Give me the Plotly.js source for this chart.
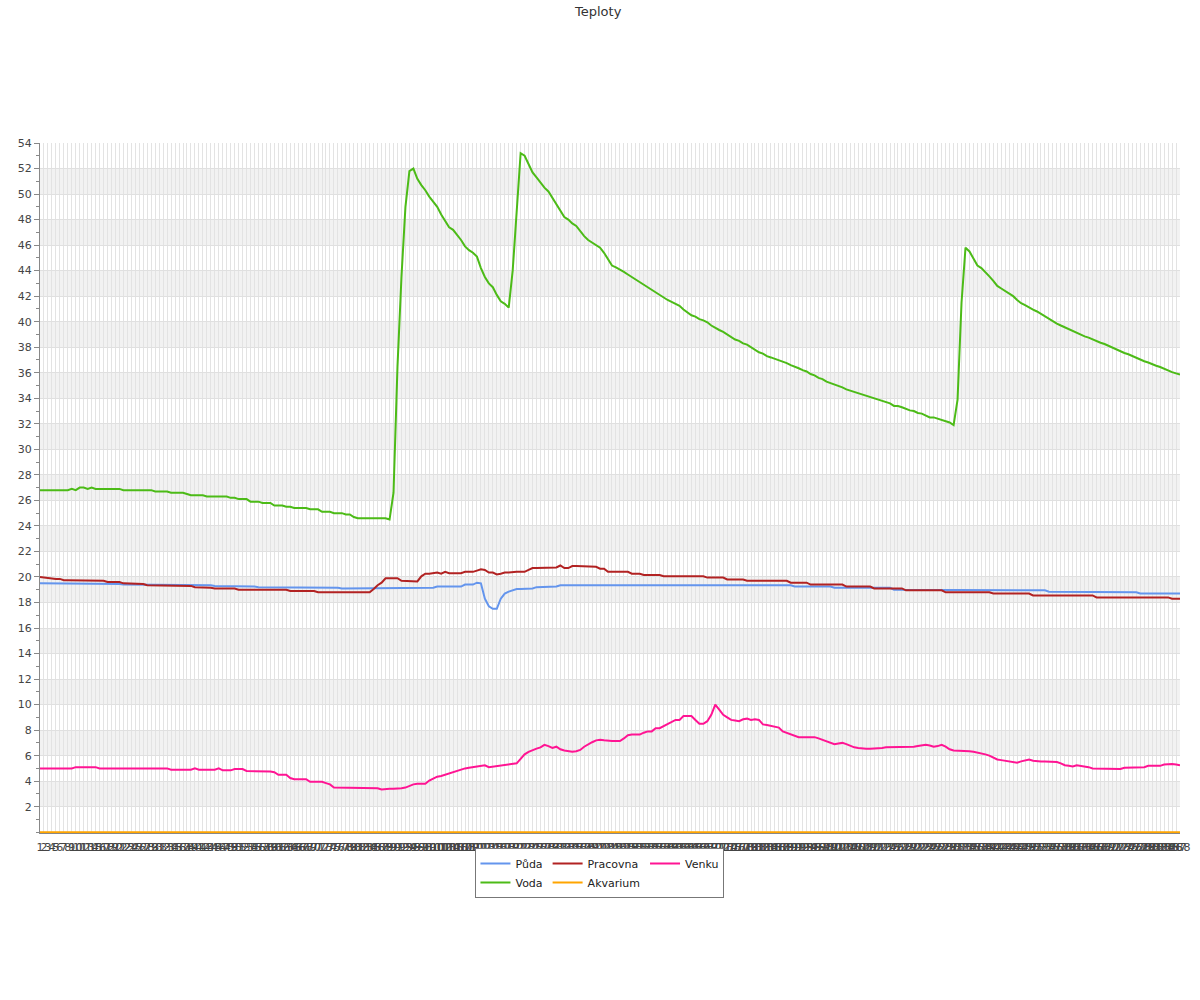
<!DOCTYPE html>
<html>
<head>
<meta charset="utf-8">
<script src="https://cdn.plot.ly/plotly-3.0.1.min.js"></script>
<style>html,body{margin:0;padding:0;background:#fff;}#chart{width:1200px;height:1000px;}</style>
</head>
<body>
<div id="chart"></div>
<script>
// category labels 1..288 (five-minute samples)
const categories = Array.from({length: 288}, (_, k) => String(k + 1));

const seriesNames = ['Půda', 'Pracovna', 'Venku', 'Voda', 'Akvarium'];

const puda = [
19.5,19.5,19.5,19.5,19.5,19.5,19.45,19.5,19.45,19.45,
19.45,19.45,19.45,19.45,19.45,19.45,19.45,19.45,19.45,19.45,
19.45,19.4,19.4,19.4,19.4,19.4,19.4,19.4,19.4,19.4,
19.4,19.4,19.4,19.4,19.4,19.4,19.4,19.4,19.4,19.4,
19.35,19.35,19.35,19.35,19.3,19.3,19.3,19.3,19.3,19.3,
19.3,19.25,19.25,19.25,19.25,19.2,19.2,19.2,19.2,19.2,
19.2,19.2,19.2,19.2,19.2,19.2,19.15,19.15,19.15,19.15,
19.15,19.15,19.15,19.15,19.15,19.15,19.1,19.1,19.1,19.1,
19.1,19.1,19.1,19.1,19.1,19.1,19.1,19.1,19.15,19.15,
19.15,19.15,19.15,19.15,19.15,19.15,19.15,19.15,19.15,19.15,
19.25,19.25,19.25,19.25,19.25,19.25,19.25,19.4,19.4,19.4,
19.55,19.5,18.3,17.7,17.5,17.5,18.3,18.7,18.85,18.95,
19.05,19.05,19.05,19.05,19.1,19.2,19.2,19.2,19.2,19.2,
19.25,19.35,19.35,19.35,19.35,19.4,19.4,19.4,19.4,19.4,
19.4,19.4,19.4,19.4,19.4,19.4,19.4,19.4,19.4,19.4,
19.4,19.4,19.4,19.4,19.4,19.4,19.4,19.4,19.4,19.4,
19.4,19.4,19.4,19.4,19.4,19.4,19.4,19.4,19.4,19.4,
19.4,19.4,19.4,19.4,19.4,19.4,19.4,19.4,19.4,19.4,
19.4,19.4,19.4,19.35,19.35,19.35,19.35,19.35,19.35,19.35,
19.25,19.25,19.25,19.25,19.25,19.25,19.25,19.25,19.25,19.25,
19.15,19.15,19.15,19.15,19.15,19.15,19.15,19.15,19.15,19.15,
19.15,19.15,19.15,19.15,19.15,19.0,19.0,19.0,19.0,19.0,
19.0,19.0,19.0,19.0,19.0,19.0,19.0,19.0,19.0,19.0,
19.0,19.0,19.0,19.0,19.0,19.0,19.0,19.0,19.0,19.0,
19.0,19.0,18.95,18.95,18.95,18.95,18.95,18.95,18.95,18.95,
18.95,18.95,18.95,18.95,18.85,18.85,18.85,18.85,18.85,18.85,
18.85,18.85,18.85,18.85,18.8,18.8,18.8,18.8,18.8,18.8,
18.8,18.8,18.8,18.8,18.8,18.8,18.8,18.7,18.7,18.75,
18.7,18.7,18.7,18.7,18.7,18.7,18.7,18.7
];

const voda = [
26.8,26.8,26.8,26.8,26.8,26.8,26.8,26.8,26.9,26.8,
27.0,27.0,26.9,27.0,26.9,26.9,26.9,26.9,26.9,26.9,
26.9,26.8,26.8,26.8,26.8,26.8,26.8,26.8,26.8,26.7,
26.7,26.7,26.7,26.6,26.6,26.6,26.6,26.5,26.4,26.4,
26.4,26.4,26.3,26.3,26.3,26.3,26.3,26.3,26.2,26.2,
26.1,26.1,26.1,25.9,25.9,25.9,25.8,25.8,25.8,25.6,
25.6,25.6,25.5,25.5,25.4,25.4,25.4,25.4,25.3,25.3,
25.3,25.1,25.1,25.1,25.0,25.0,25.0,24.9,24.9,24.7,
24.6,24.6,24.6,24.6,24.6,24.6,24.6,24.6,24.5,26.6,
36.5,43.5,49.0,51.8,52.0,51.2,50.7,50.3,49.8,49.4,
49.0,48.4,47.9,47.4,47.2,46.8,46.4,45.9,45.6,45.4,
45.1,44.2,43.5,43.0,42.7,42.1,41.6,41.4,41.1,44.0,
49.0,53.2,53.0,52.4,51.7,51.3,50.9,50.5,50.2,49.7,
49.1,48.6,48.2,48.0,47.7,47.5,47.1,46.7,46.4,46.2,
46.0,45.8,45.4,44.9,44.4,44.25,44.1,43.9,43.7,43.5,
43.3,43.1,42.9,42.7,42.5,42.3,42.1,41.85,41.7,41.55,
41.4,41.25,40.95,40.7,40.5,40.4,40.2,40.1,39.95,39.7,
39.5,39.35,39.2,39.0,38.8,38.6,38.5,38.3,38.2,38.0,
37.8,37.6,37.5,37.3,37.2,37.1,37.0,36.9,36.75,36.6,
36.5,36.35,36.2,36.1,35.9,35.8,35.6,35.5,35.3,35.2,
35.05,34.95,34.85,34.7,34.6,34.45,34.4,34.3,34.2,34.1,
34.0,33.9,33.8,33.7,33.6,33.4,33.4,33.3,33.15,33.05,
33.0,32.85,32.8,32.65,32.5,32.5,32.4,32.25,32.15,32.1,
31.9,33.9,41.5,45.8,45.5,44.9,44.4,44.2,43.9,43.55,
43.2,42.8,42.6,42.4,42.15,42.0,41.7,41.45,41.3,41.1,
40.95,40.8,40.6,40.45,40.25,40.0,39.85,39.7,39.55,39.4,
39.3,39.15,39.0,38.85,38.75,38.6,38.5,38.35,38.25,38.1,
38.0,37.85,37.7,37.55,37.45,37.3,37.15,37.05,36.9,36.8,
36.65,36.55,36.45,36.3,36.2,36.05,35.95,35.85
];

const pracovna = [
20.0,19.95,19.95,19.85,19.85,19.85,19.75,19.75,19.75,19.75,
19.7,19.7,19.7,19.7,19.7,19.7,19.7,19.6,19.6,19.6,
19.6,19.5,19.5,19.5,19.5,19.45,19.45,19.35,19.35,19.35,
19.35,19.35,19.35,19.35,19.35,19.35,19.35,19.3,19.3,19.2,
19.2,19.15,19.15,19.15,19.1,19.1,19.1,19.1,19.1,19.1,
19.0,19.0,19.0,19.0,19.0,19.0,19.0,19.0,19.0,19.0,
19.0,19.0,19.0,18.9,18.9,18.9,18.9,18.9,18.9,18.9,
18.8,18.8,18.8,18.8,18.8,18.8,18.8,18.8,18.8,18.8,
18.8,18.8,18.8,18.8,19.05,19.35,19.55,19.9,19.9,19.9,
19.9,19.7,19.7,19.7,19.7,19.65,20.05,20.25,20.25,20.3,
20.35,20.25,20.4,20.3,20.3,20.3,20.3,20.4,20.4,20.4,
20.5,20.6,20.55,20.35,20.35,20.2,20.25,20.35,20.35,20.4,
20.4,20.4,20.4,20.55,20.7,20.7,20.7,20.7,20.7,20.7,
20.75,20.9,20.7,20.7,20.85,20.85,20.85,20.85,20.85,20.85,
20.8,20.65,20.65,20.4,20.4,20.4,20.4,20.4,20.4,20.25,
20.25,20.25,20.15,20.15,20.15,20.15,20.15,20.05,20.05,20.05,
20.05,20.05,20.05,20.05,20.05,20.05,20.05,20.05,19.95,19.95,
19.95,19.95,19.95,19.8,19.8,19.8,19.8,19.8,19.7,19.7,
19.7,19.7,19.7,19.7,19.7,19.7,19.7,19.7,19.7,19.55,
19.55,19.55,19.55,19.55,19.4,19.4,19.4,19.4,19.4,19.4,
19.4,19.4,19.4,19.25,19.25,19.25,19.25,19.25,19.25,19.25,
19.1,19.1,19.1,19.1,19.1,19.1,19.1,19.1,18.95,18.95,
18.95,18.95,18.95,18.95,18.95,18.95,18.95,18.95,18.8,18.8,
18.8,18.8,18.8,18.8,18.8,18.8,18.8,18.8,18.8,18.8,
18.7,18.7,18.7,18.7,18.7,18.7,18.7,18.7,18.7,18.7,
18.55,18.55,18.55,18.55,18.55,18.55,18.55,18.55,18.55,18.55,
18.55,18.55,18.55,18.55,18.55,18.55,18.4,18.4,18.4,18.4,
18.4,18.4,18.4,18.4,18.4,18.4,18.4,18.4,18.4,18.4,
18.4,18.4,18.4,18.4,18.4,18.3,18.3,18.3
];

const akvarium = [
0,0,0,0,0,0,0,0,0,0,0,0,0,0,0,0,0,0,0,0,0,0,0,0,0,0,0,0,0,0,0,0,0,0,0,0,
0,0,0,0,0,0,0,0,0,0,0,0,0,0,0,0,0,0,0,0,0,0,0,0,0,0,0,0,0,0,0,0,0,0,0,0,
0,0,0,0,0,0,0,0,0,0,0,0,0,0,0,0,0,0,0,0,0,0,0,0,0,0,0,0,0,0,0,0,0,0,0,0,
0,0,0,0,0,0,0,0,0,0,0,0,0,0,0,0,0,0,0,0,0,0,0,0,0,0,0,0,0,0,0,0,0,0,0,0,
0,0,0,0,0,0,0,0,0,0,0,0,0,0,0,0,0,0,0,0,0,0,0,0,0,0,0,0,0,0,0,0,0,0,0,0,
0,0,0,0,0,0,0,0,0,0,0,0,0,0,0,0,0,0,0,0,0,0,0,0,0,0,0,0,0,0,0,0,0,0,0,0,
0,0,0,0,0,0,0,0,0,0,0,0,0,0,0,0,0,0,0,0,0,0,0,0,0,0,0,0,0,0,0,0,0,0,0,0,
0,0,0,0,0,0,0,0,0,0,0,0,0,0,0,0,0,0,0,0,0,0,0,0,0,0,0,0,0,0,0,0,0,0,0,0
];

const venku = [
5.0,5.0,5.0,5.0,5.0,5.0,5.0,5.0,5.0,5.1,
5.1,5.1,5.1,5.1,5.1,5.0,5.0,5.0,5.0,5.0,
5.0,5.0,5.0,5.0,5.0,5.0,5.0,5.0,5.0,5.0,
5.0,5.0,5.0,4.9,4.9,4.9,4.9,4.9,4.9,5.0,
4.9,4.9,4.9,4.9,4.9,5.0,4.85,4.85,4.85,4.95,
4.95,4.95,4.8,4.8,4.8,4.8,4.8,4.8,4.75,4.7,
4.5,4.5,4.5,4.25,4.15,4.15,4.15,4.15,3.95,3.95,
3.95,3.95,3.85,3.75,3.5,3.5,3.5,3.5,3.5,3.5,
3.5,3.5,3.5,3.5,3.5,3.45,3.35,3.4,3.4,3.4,
3.4,3.45,3.5,3.65,3.75,3.8,3.8,3.8,4.05,4.2,
4.35,4.4,4.5,4.6,4.75,4.8,4.9,5.0,5.05,5.1,
5.15,5.2,5.25,5.1,5.15,5.2,5.25,5.3,5.3,5.35,
5.4,5.75,6.1,6.3,6.45,6.55,6.65,6.85,6.75,6.6,
6.7,6.5,6.4,6.35,6.3,6.35,6.45,6.7,6.9,7.05,
7.2,7.25,7.2,7.15,7.15,7.15,7.15,7.35,7.6,7.65,
7.65,7.65,7.8,7.9,7.9,8.15,8.15,8.3,8.5,8.65,
8.8,8.8,9.1,9.1,9.1,8.8,8.5,8.5,8.7,9.2,
10.0,9.6,9.2,9.0,8.8,8.75,8.7,8.85,8.9,8.8,
8.85,8.8,8.45,8.4,8.35,8.3,8.2,7.9,7.8,7.65,
7.55,7.45,7.45,7.45,7.45,7.45,7.35,7.25,7.1,7.05,
6.9,6.95,7.0,6.9,6.75,6.65,6.6,6.55,6.55,6.55,
6.55,6.55,6.6,6.65,6.65,6.65,6.65,6.65,6.65,6.65,
6.7,6.75,6.8,6.85,6.8,6.7,6.75,6.85,6.7,6.5,
6.4,6.4,6.4,6.4,6.35,6.3,6.25,6.2,6.1,6.0,
5.85,5.7,5.65,5.6,5.55,5.5,5.45,5.55,5.65,5.7,
5.6,5.55,5.55,5.55,5.55,5.55,5.5,5.4,5.25,5.2,
5.15,5.25,5.2,5.2,5.1,5.0,5.0,5.0,5.0,4.95,
4.95,4.95,4.95,5.05,5.05,5.05,5.05,5.05,5.1,5.2,
5.2,5.2,5.2,5.3,5.35,5.35,5.3,5.25
];

const yTicks = [2,4,6,8,10,12,14,16,18,20,22,24,26,28,30,32,34,36,38,40,42,44,46,48,50,52,54];
const bandStarts = [2,6,10,14,18,22,26,30,34,38,42,46,50];

const colors = {
  'Půda': '#6495ED',
  'Pracovna': '#B22222',
  'Venku': '#FF1493',
  'Voda': '#4CBB17',
  'Akvarium': '#FFA500'
};
const groups = {'Půda':'a','Voda':'a','Pracovna':'b','Akvarium':'b','Venku':'c'};
const values = {'Půda': puda, 'Pracovna': pracovna, 'Venku': venku, 'Voda': voda, 'Akvarium': akvarium};

const traces = seriesNames.map(name => ({
  type: 'scatter',
  mode: 'lines',
  name: name,
  x: categories,
  y: values[name],
  legendgroup: groups[name],
  line: {color: colors[name], width: 2},
  hoverinfo: 'x+y+name'
}));

const shapes = bandStarts.map(v => ({
  type: 'rect', xref: 'paper', yref: 'y', x0: 0, x1: 1, y0: v, y1: v + 2,
  fillcolor: '#F2F2F2', line: {width: 0}, layer: 'below'
}));

const font = 'DejaVu Sans, Verdana, sans-serif';

const layout = {
  width: 1200,
  height: 1000,
  paper_bgcolor: '#ffffff',
  plot_bgcolor: 'rgba(0,0,0,0)',
  margin: {l: 40, r: 20, t: 143, b: 167, pad: 0},
  title: {
    text: 'Teploty',
    font: {family: font, size: 13, color: '#333333'},
    x: 0.4985, xanchor: 'center', xref: 'container',
    y: 0.989, yanchor: 'middle', yref: 'container'
  },
  showlegend: true,
  legend: {
    orientation: 'h',
    traceorder: 'grouped',
    x: 0.4912, xanchor: 'center',
    y: -0.0217, yanchor: 'top',
    bgcolor: '#ffffff',
    bordercolor: '#777777',
    borderwidth: 1,
    font: {family: font, size: 11, color: '#222222'},
    tracegroupgap: 0,
    itemwidth: 30
  },
  xaxis: {
    type: 'category',
    range: [0, 287],
    tickmode: 'linear',
    tick0: 0,
    dtick: 1,
    tickangle: 0,
    ticks: '',
    ticklabelstandoff: 4,
    showgrid: true,
    gridcolor: '#E3E3E3',
    gridwidth: 1,
    showline: true,
    linecolor: '#888888',
    linewidth: 1,
    tickfont: {family: font, size: 11, color: '#444444'},
    automargin: false,
    zeroline: false,
    fixedrange: true
  },
  yaxis: {
    range: [-0.06, 54],
    tickmode: 'array',
    tickvals: yTicks,
    ticktext: yTicks.map(String),
    ticks: 'outside',
    ticklen: 5,
    tickcolor: '#888888',
    minor: {tickmode: 'linear', tick0: 0, dtick: 1, ticks: 'outside', ticklen: 3, tickcolor: '#888888', showgrid: false},
    showgrid: true,
    gridcolor: '#E0E0E0',
    gridwidth: 1,
    showline: true,
    linecolor: '#888888',
    linewidth: 1,
    zeroline: false,
    tickfont: {family: font, size: 11, color: '#444444'},
    automargin: false,
    fixedrange: true
  },
  shapes: shapes
};

Plotly.newPlot('chart', traces, layout, {displayModeBar: false, staticPlot: true});
</script>
</body>
</html>
